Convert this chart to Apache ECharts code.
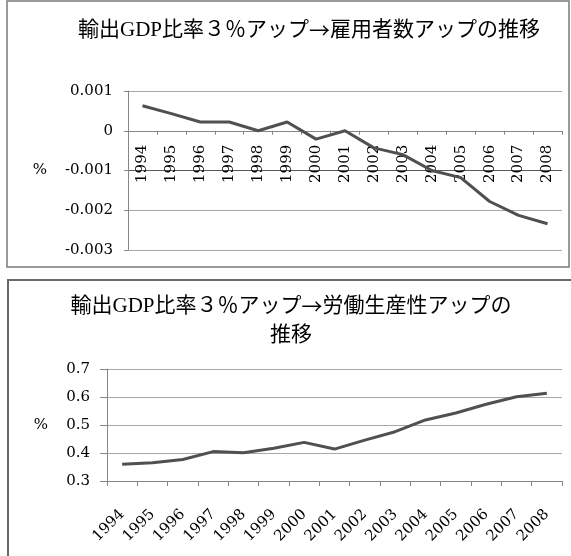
<!DOCTYPE html>
<html>
<head>
<meta charset="utf-8">
<script src="https://cdn.jsdelivr.net/npm/echarts@6/dist/echarts.min.js"></script>
<style>
  html, body { margin: 0; padding: 0; background: #fff; }
  #chart { width: 571px; height: 556px; }
</style>
</head>
<body>
<div id="chart"></div>
<script>
// 年
const years = ['1994', '1995', '1996', '1997', '1998', '1999', '2000', '2001',
  '2002', '2003', '2004', '2005', '2006', '2007', '2008']

// 雇用者数アップ (%)
const employment = [0.00063, 0.00043, 0.00022, 0.00022, 0.0, 0.00022, -0.00021, 0.0,
  -0.00043, -0.0006, -0.00100, -0.00118, -0.00178, -0.00213, -0.00234]

// 労働生産性アップ (%)
const productivity = [0.360, 0.365, 0.377, 0.405, 0.401, 0.417, 0.438, 0.414,
  0.446, 0.476, 0.518, 0.543, 0.574, 0.601, 0.613]

const topTicks = ['-0.003', '-0.002', '-0.001', '0', '0.001']
const bottomTicks = ['0.3', '0.4', '0.5', '0.6', '0.7']

// 矢印だけCJKフォントで描く
const titleTop = '輸出GDP比率３％アップ{a|→}雇用者数アップの推移'
const titleBottom = '輸出GDP比率３％アップ{a|→}労働生産性アップの\n推移'

const serif = '"DejaVu Serif", "Liberation Serif", serif'
const titleFont = '"Liberation Serif", "Noto Sans CJK JP"'
const axisGray = '#868686'
const gridGray = '#a8a8a8'
const lineColor = '#505050'

const topMin = -0.003
const topMax = 0.001
const topGridTop = 91
const topGridHeight = 159
// x軸を0の位置に置く
const zeroOffset = -topGridHeight * (0 - topMin) / (topMax - topMin)

const chart = echarts.init(document.getElementById('chart'))

const titleStyle = {
  fontFamily: titleFont,
  fontSize: 21,
  fontWeight: 'normal',
  color: '#000',
  lineHeight: 29,
  rich: {
    a: { fontFamily: 'Noto Sans CJK JP', fontSize: 21, color: '#000', lineHeight: 29 }
  }
}

const option = {
  animation: false,
  backgroundColor: '#fff',
  graphic: [
    {
      type: 'rect',
      shape: { x: 7, y: 1, width: 562, height: 266 },
      style: { fill: 'none', stroke: '#7a7a7a', lineWidth: 1.5 },
      silent: true
    },
    {
      type: 'rect',
      shape: { x: 8, y: 280, width: 600, height: 320 },
      style: { fill: 'none', stroke: '#6a6a6a', lineWidth: 2 },
      silent: true
    }
  ],
  title: [
    {
      text: titleTop,
      left: 309,
      top: 16,
      padding: 0,
      textAlign: 'center',
      textStyle: titleStyle
    },
    {
      text: titleBottom,
      left: 291,
      top: 292,
      padding: 0,
      textAlign: 'center',
      textStyle: titleStyle
    }
  ],
  grid: [
    { left: 128, right: 9, top: topGridTop, height: topGridHeight },
    { left: 107, right: 9, top: 369, height: 112 }
  ],
  xAxis: [
    {
      type: 'category',
      gridIndex: 0,
      data: years,
      boundaryGap: true,
      position: 'bottom',
      offset: zeroOffset,
      axisLine: { onZero: false, lineStyle: { color: axisGray, width: 1 } },
      axisTick: { show: true, length: 4, lineStyle: { color: axisGray } },
      axisLabel: {
        rotate: 90,
        margin: 14,
        interval: 0,
        fontFamily: serif,
        fontSize: 15,
        color: '#000'
      },
      splitLine: { show: false }
    },
    {
      type: 'category',
      gridIndex: 1,
      data: years,
      boundaryGap: true,
      axisLine: { lineStyle: { color: axisGray, width: 1 } },
      axisTick: { show: true, length: 5, lineStyle: { color: axisGray } },
      axisLabel: {
        rotate: 45,
        margin: 31,
        interval: 0,
        fontFamily: serif,
        fontSize: 15,
        color: '#000'
      },
      splitLine: { show: false }
    }
  ],
  yAxis: [
    {
      type: 'value',
      gridIndex: 0,
      min: topMin,
      max: topMax,
      interval: 0.001,
      name: '%',
      nameLocation: 'middle',
      nameRotate: 0,
      nameGap: 81,
      nameTextStyle: { fontFamily: serif, fontSize: 15, color: '#000' },
      axisLine: { show: true, lineStyle: { color: axisGray, width: 1 } },
      axisTick: { show: true, length: 4, lineStyle: { color: axisGray } },
      axisLabel: {
        margin: 15,
        fontFamily: serif,
        fontSize: 15,
        color: '#000',
        formatter: (v, i) => topTicks[i]
      },
      splitLine: {
        show: true,
        lineStyle: { color: [gridGray, gridGray, '#5a5a5a', gridGray, gridGray], width: 1 }
      }
    },
    {
      type: 'value',
      gridIndex: 1,
      min: 0.3,
      max: 0.7,
      interval: 0.1,
      name: '%',
      nameLocation: 'middle',
      nameRotate: 0,
      nameGap: 59,
      nameTextStyle: { fontFamily: serif, fontSize: 15, color: '#000' },
      axisLine: { show: true, lineStyle: { color: axisGray, width: 1 } },
      axisTick: { show: true, length: 7, lineStyle: { color: axisGray } },
      axisLabel: {
        margin: 17,
        fontFamily: serif,
        fontSize: 15,
        color: '#000',
        formatter: (v, i) => bottomTicks[i]
      },
      splitLine: { show: true, lineStyle: { color: gridGray, width: 1 } }
    }
  ],
  series: [
    {
      name: '雇用者数アップ',
      type: 'line',
      xAxisIndex: 0,
      yAxisIndex: 0,
      data: employment,
      showSymbol: false,
      lineStyle: { color: lineColor, width: 3 },
      itemStyle: { color: lineColor },
      z: 5
    },
    {
      name: '労働生産性アップ',
      type: 'line',
      xAxisIndex: 1,
      yAxisIndex: 1,
      data: productivity,
      showSymbol: false,
      lineStyle: { color: lineColor, width: 3 },
      itemStyle: { color: lineColor },
      z: 5
    }
  ]
}

chart.setOption(option)
</script>
</body>
</html>
